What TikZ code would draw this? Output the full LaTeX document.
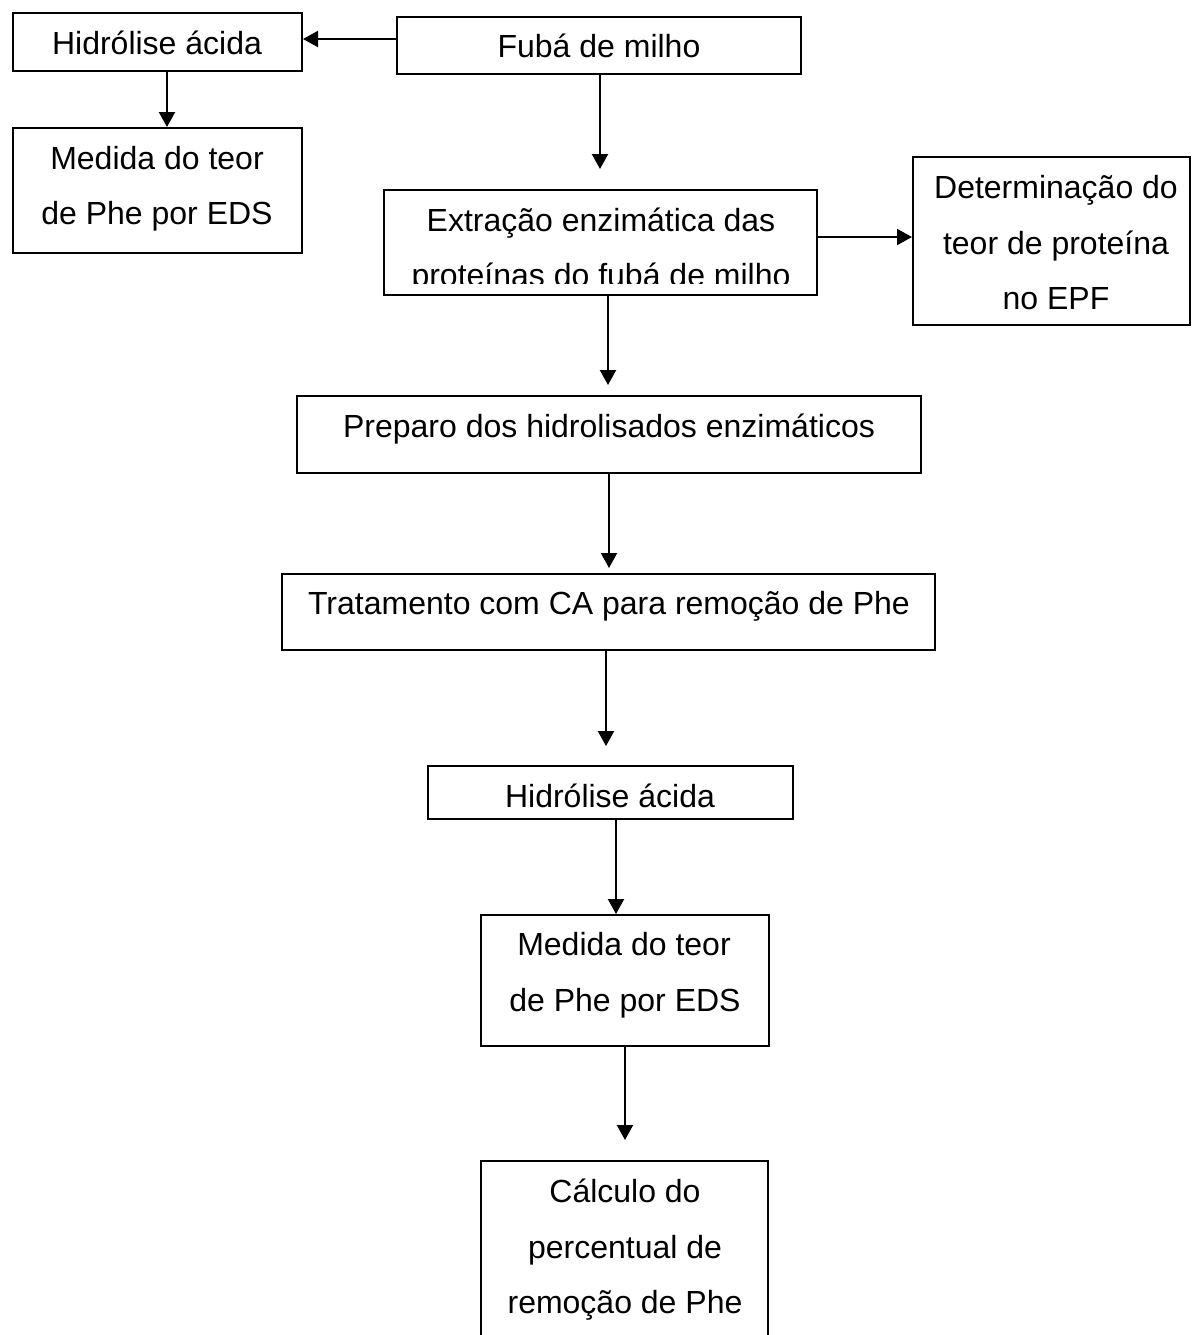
\documentclass[tikz,border=0pt]{standalone}
\usepackage{fontspec}
\setmainfont{Liberation Sans}
\usetikzlibrary{arrows.meta,fit}
\tikzset{
  box/.style={draw=black, line width=1pt, inner sep=0pt, fill=none},
  txt/.style={anchor=base, inner sep=0pt, font=\fontsize{16pt}{19pt}\selectfont},
  arr/.style={line width=1.05pt, -{Triangle[length=7.5pt,width=8pt]}},
}
\begin{document}
\begin{tikzpicture}[x=0.5pt,y=-0.5pt]
\useasboundingbox (0,0) rectangle (1191,1335);
% boxes
\node[box, fit={(13,13) (302,71)}] (hl) {};
\node[box, fit={(397,17) (801,74)}] (fuba) {};
\node[box, fit={(13,128) (302,253)}] (ml) {};
\node[box, fit={(384,190) (817,295)}] (ext) {};
\node[box, fit={(913,157) (1190,325)}] (det) {};
\node[box, fit={(297,396) (921,473)}] (prep) {};
\node[box, fit={(282,574) (935,650)}] (trat) {};
\node[box, fit={(428,766) (793,819)}] (hr) {};
\node[box, fit={(481,915) (769,1046)}] (mr) {};
\node[box, fit={(481,1161) (768,1365)}] (calc) {};
% texts
\node[txt] (hlT) at (157,54) {Hidrólise ácida};
\node[txt] (fubaT) at (599,57) {Fubá de milho};
\node[txt] (mlT1) at (157,169) {Medida do teor};
\node[txt] (mlT2) at (157,224) {de Phe por EDS};
\begin{scope}
  \clip (384,190) rectangle (817,283.5);
  \node[txt] (extT1) at (601,231) {Extração enzimática das};
  \node[txt] (extT2) at (601,286) {proteínas do fubá de milho};
\end{scope}
\node[txt] (detT1) at (1056,198) {Determinação do};
\node[txt] (detT2) at (1056,254) {teor de proteína};
\node[txt] (detT3) at (1056,309) {no EPF};
\node[txt] (prepT) at (609,437) {Preparo dos hidrolisados enzimáticos};
\node[txt] (tratT) at (609,614) {Tratamento com CA para remoção de Phe};
\node[txt] (hrT) at (610,807) {Hidrólise ácida};
\node[txt] (mrT1) at (624,955) {Medida do teor};
\node[txt] (mrT2) at (625,1011) {de Phe por EDS};
\node[txt] (calcT1) at (625,1202) {Cálculo do};
\node[txt] (calcT2) at (625,1258) {percentual de};
\node[txt] (calcT3) at (625,1313) {remoção de Phe};
% connector helpers
\coordinate (y1) at (0,39);
\coordinate (x2) at (167,0);
\coordinate (t3) at (600,169);
\coordinate (y4) at (0,237);
\coordinate (t5) at (608,385);
\coordinate (t6) at (609,568);
\coordinate (t7) at (606,746);
\coordinate (x8) at (616,0);
\coordinate (t9) at (625,1140);
% connectors
\draw[arr] (fuba.west |- y1) -- (hl.east |- y1);
\draw[arr] (hl.south -| x2) -- (ml.north -| x2);
\draw[arr] (fuba.south -| t3) -- (t3);
\draw[arr] (ext.east |- y4) -- (det.west |- y4);
\draw[arr] (ext.south -| t5) -- (t5);
\draw[arr] (prep.south -| t6) -- (t6);
\draw[arr] (trat.south -| t7) -- (t7);
\draw[arr] (hr.south -| x8) -- (mr.north -| x8);
\draw[arr] (mr.south -| t9) -- (t9);
\end{tikzpicture}
\end{document}
